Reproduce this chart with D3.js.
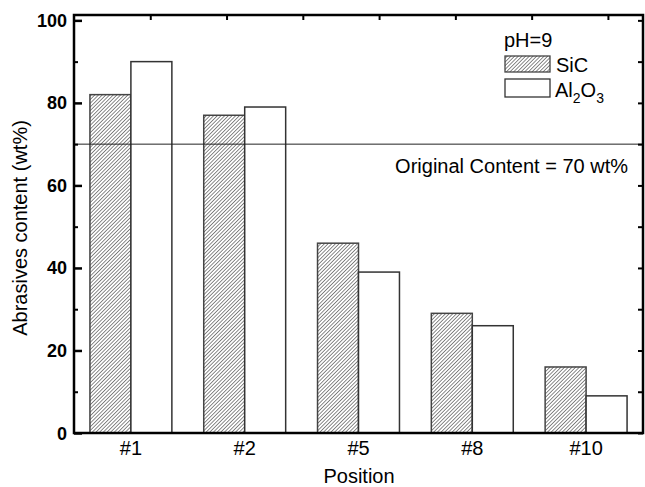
<!DOCTYPE html>
<html>
<head>
<meta charset="utf-8">
<script src="https://cdn.jsdelivr.net/npm/d3@7"></script>
<style>
  body { margin: 0; background: #fff; }
  svg { display: block; font-family: "Liberation Sans", Arial, sans-serif; }
</style>
</head>
<body>
<svg id="chart" width="645" height="487"></svg>
<script>
// data
var positions = ["#1", "#2", "#5", "#8", "#10"];
var sic = [82, 77, 46, 29, 16];
var alumina = [90, 79, 39, 26, 9];
var originalContent = 70;
var yTicks = [0, 20, 40, 60, 80, 100];
var yMinor = [10, 30, 50, 70, 90];
var topTicks = [1, 2, 3, 4, 5, 6, 7];

var svg = d3.select("#chart");
var m = {left: 74, right: 643, top: 15, bottom: 433};

var x = d3.scaleBand().domain(positions).range([m.left, m.right])
    .paddingInner(0.28).paddingOuter(0.14);
var x1 = d3.scaleBand().domain(["sic", "al"]).range([0, x.bandwidth()]);
var y = d3.scaleLinear().domain([0, 101.3]).range([m.bottom, m.top]);
var xTop = d3.scaleLinear().domain([0, 7.46]).range([m.left, m.right]);

// hatch pattern
var defs = svg.append("defs");
var pat = defs.append("pattern")
    .attr("id", "hatch")
    .attr("patternUnits", "userSpaceOnUse")
    .attr("width", 2.6).attr("height", 4)
    .attr("patternTransform", "rotate(45)");
pat.append("rect").attr("width", 2.6).attr("height", 4).attr("fill", "#fff");
pat.append("line").attr("x1", 0).attr("y1", 0).attr("x2", 0).attr("y2", 4)
    .attr("stroke", "#2a2a2a").attr("stroke-width", 1.1);

var rows = positions.map(function(p, i){ return {pos: p, sic: sic[i], al: alumina[i]}; });

var g = svg.selectAll("g.grp").data(rows).enter().append("g")
    .attr("class", "grp")
    .attr("transform", d => "translate(" + x(d.pos) + ",0)");

g.append("rect")
    .attr("x", x1("sic"))
    .attr("y", d => y(d.sic))
    .attr("width", x1.bandwidth())
    .attr("height", d => y(0) - y(d.sic))
    .attr("fill", "url(#hatch)")
    .attr("stroke", "#444").attr("stroke-width", 1.5);

g.append("rect")
    .attr("x", x1("al"))
    .attr("y", d => y(d.al))
    .attr("width", x1.bandwidth())
    .attr("height", d => y(0) - y(d.al))
    .attr("fill", "#fff")
    .attr("stroke", "#333").attr("stroke-width", 1.5);

// original content line
svg.append("line")
    .attr("x1", m.left).attr("x2", m.right)
    .attr("y1", y(originalContent)).attr("y2", y(originalContent))
    .attr("stroke", "#222").attr("stroke-width", 1);

svg.append("text")
    .attr("x", 628).attr("y", 173)
    .attr("text-anchor", "end")
    .attr("font-size", 20)
    .text("Original Content = " + originalContent + " wt%");

// axes
var leftAx = svg.append("g").attr("transform", "translate(" + m.left + ",0)")
    .call(d3.axisRight(y).tickValues(yTicks).tickSize(8).tickFormat(""));
leftAx.select(".domain").remove();
leftAx.selectAll("line").attr("stroke-width", 2.5);
svg.append("g").attr("transform", "translate(" + m.left + ",0)")
    .call(d3.axisRight(y).tickValues(yMinor).tickSize(4).tickFormat(""))
    .call(a => a.select(".domain").remove())
    .selectAll("line").attr("stroke-width", 2);

svg.selectAll("text.ylab").data(yTicks).enter().append("text")
    .attr("class", "ylab")
    .attr("x", m.left - 7).attr("y", d => y(d) + 6.5)
    .attr("text-anchor", "end")
    .attr("font-size", 18).attr("font-weight", "bold")
    .text(d => d);

var rightAx = svg.append("g").attr("transform", "translate(" + m.right + ",0)")
    .call(d3.axisLeft(y).tickValues(yTicks.concat(yMinor)).tickSize(5).tickFormat(""));
rightAx.select(".domain").remove();
rightAx.selectAll("line").attr("stroke-width", 2);

var topAx = svg.append("g").attr("transform", "translate(0," + m.top + ")")
    .call(d3.axisBottom(xTop).tickValues(topTicks).tickSize(5).tickFormat(""));
topAx.select(".domain").remove();
topAx.selectAll("line").attr("stroke-width", 2);

// frame
svg.append("rect")
    .attr("x", m.left).attr("y", m.top)
    .attr("width", m.right - m.left).attr("height", m.bottom - m.top)
    .attr("fill", "none").attr("stroke", "#000").attr("stroke-width", 2.5);

svg.selectAll("text.xlab").data(positions).enter().append("text")
    .attr("class", "xlab")
    .attr("x", d => x(d) + x.bandwidth() / 2).attr("y", 455)
    .attr("text-anchor", "middle")
    .attr("font-size", 20)
    .text(d => d);

svg.append("text")
    .attr("x", 359).attr("y", 483)
    .attr("text-anchor", "middle").attr("font-size", 20)
    .text("Position");

svg.append("text")
    .attr("transform", "translate(27,228) rotate(-90)")
    .attr("text-anchor", "middle").attr("font-size", 20)
    .text("Abrasives content (wt%)");

// legend
var lg = svg.append("g").attr("transform", "translate(504,0)");
lg.append("text").attr("x", 0).attr("y", 47).attr("font-size", 20).text("pH=9");
lg.append("rect").attr("x", 1).attr("y", 56).attr("width", 45).attr("height", 16)
    .attr("fill", "url(#hatch)").attr("stroke", "#444").attr("stroke-width", 1.3);
lg.append("text").attr("x", 52).attr("y", 72).attr("font-size", 20).text("SiC");
lg.append("rect").attr("x", 1).attr("y", 79).attr("width", 45).attr("height", 18)
    .attr("fill", "#fff").attr("stroke", "#333").attr("stroke-width", 1.3);
var al = lg.append("text").attr("x", 51).attr("y", 97).attr("font-size", 20);
al.append("tspan").text("Al");
al.append("tspan").attr("dy", 6).attr("font-size", 14).text("2");
al.append("tspan").attr("dy", -6).text("O");
al.append("tspan").attr("dy", 6).attr("font-size", 14).text("3");
</script>
</body>
</html>
